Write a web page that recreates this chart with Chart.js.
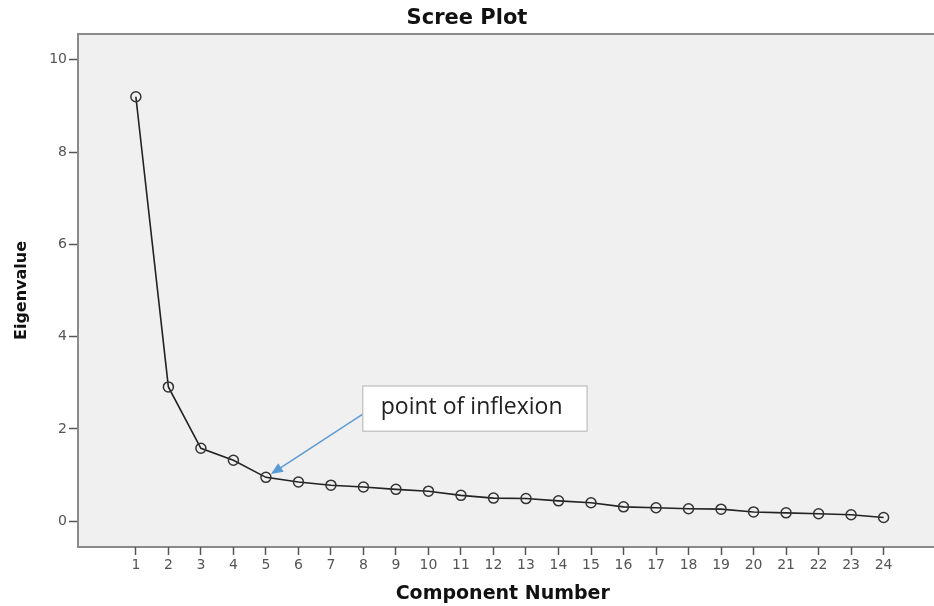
<!DOCTYPE html>
<html>
<head>
<meta charset="utf-8">
<script src="https://cdn.jsdelivr.net/npm/chart.js@4/dist/chart.umd.min.js"></script>
<style>
  html, body { margin: 0; padding: 0; background: #fff; }
  #wrap { width: 934px; height: 606px; }
</style>
</head>
<body>
<div id="wrap"><canvas id="scree"></canvas></div>
<script>
  const components = [1, 2, 3, 4, 5, 6, 7, 8, 9, 10, 11, 12, 13, 14, 15, 16, 17, 18, 19, 20, 21, 22, 23, 24];
  const eigenvalues = [9.2, 2.91, 1.58, 1.32, 0.95, 0.85, 0.78, 0.74, 0.69, 0.65, 0.56, 0.5, 0.49, 0.44, 0.4, 0.31, 0.29, 0.27, 0.26, 0.2, 0.18, 0.16, 0.14, 0.08];
  const yTicks = [0, 2, 4, 6, 8, 10];

  // note box + arrow, in data units
  const note = { text: "point of inflexion", x0: 7.98, x1: 14.88, y0: 2.93, y1: 1.95, arrowFromY: 2.32, target: 5 };

  const tickFont = { family: "'DejaVu Sans', sans-serif", size: 14 };

  // plot frame runs off the right edge of the picture
  const plotBg = {
    id: "plotBg",
    beforeDraw(chart) {
      const { ctx, chartArea: a } = chart;
      const right = chart.width;
      ctx.save();
      ctx.fillStyle = "#f0f0f0";
      ctx.fillRect(a.left, a.top, right - a.left, a.bottom - a.top);
      ctx.strokeStyle = "#8a8a8a";
      ctx.lineWidth = 2;
      ctx.beginPath();
      ctx.moveTo(a.left, a.top);
      ctx.lineTo(right, a.top);
      ctx.moveTo(a.left, a.bottom);
      ctx.lineTo(right, a.bottom);
      ctx.stroke();
      ctx.restore();
    },
  };

  const noteBox = {
    id: "noteBox",
    afterDatasetsDraw(chart) {
      const { ctx } = chart;
      const xs = chart.scales.x;
      const ys = chart.scales.y;
      const l = xs.getPixelForValue(note.x0);
      const r = xs.getPixelForValue(note.x1);
      const t = ys.getPixelForValue(note.y0);
      const b = ys.getPixelForValue(note.y1);
      ctx.save();
      // arrow
      const sx = l;
      const sy = ys.getPixelForValue(note.arrowFromY);
      const px = xs.getPixelForValue(note.target);
      const py = ys.getPixelForValue(eigenvalues[note.target - 1]);
      const ang = Math.atan2(py - sy, px - sx);
      const ex = px - Math.cos(ang) * 6;
      const ey = py - Math.sin(ang) * 6;
      ctx.strokeStyle = "#5b9bd5";
      ctx.fillStyle = "#5b9bd5";
      ctx.lineWidth = 1.5;
      ctx.beginPath();
      ctx.moveTo(sx, sy);
      ctx.lineTo(ex - Math.cos(ang) * 10, ey - Math.sin(ang) * 10);
      ctx.stroke();
      ctx.beginPath();
      ctx.moveTo(ex, ey);
      ctx.lineTo(ex - Math.cos(ang - 0.4) * 13, ey - Math.sin(ang - 0.4) * 13);
      ctx.lineTo(ex - Math.cos(ang + 0.4) * 13, ey - Math.sin(ang + 0.4) * 13);
      ctx.closePath();
      ctx.fill();
      // box
      ctx.fillStyle = "#ffffff";
      ctx.fillRect(l, t, r - l, b - t);
      ctx.strokeStyle = "#bdbdbd";
      ctx.lineWidth = 1.2;
      ctx.strokeRect(l, t, r - l, b - t);
      ctx.fillStyle = "#222";
      ctx.font = "23px 'Open Sans', sans-serif";
      ctx.textBaseline = "middle";
      ctx.fillText(note.text, l + 18, (t + b) / 2 - 1);
      ctx.restore();
    },
  };

  new Chart(document.getElementById("scree"), {
    type: "line",
    data: {
      datasets: [
        {
          data: components.map((c, i) => ({ x: c, y: eigenvalues[i] })),
          borderColor: "#222",
          borderWidth: 1.6,
          pointStyle: "circle",
          pointRadius: 5,
          pointBorderColor: "#333",
          pointBorderWidth: 1.5,
          pointBackgroundColor: "rgba(0,0,0,0)",
          tension: 0,
        },
      ],
    },
    options: {
      responsive: true,
      maintainAspectRatio: false,
      animation: false,
      layout: { padding: 0 },
      plugins: {
        legend: { display: false },
        tooltip: { enabled: false },
        title: {
          display: true,
          text: "Scree Plot",
          color: "#111",
          font: { family: "'DejaVu Sans', sans-serif", size: 21, weight: "bold", lineHeight: 1.2 },
          padding: { top: 6, bottom: 2.8 },
        },
      },
      scales: {
        x: {
          type: "linear",
          min: -0.78,
          max: 25.35,
          afterBuildTicks: (s) => { s.ticks = components.map((v) => ({ value: v })); },
          afterFit: (s) => { s.height = 59; },
          grid: { drawOnChartArea: false, drawTicks: true, tickLength: 8, tickWidth: 1.5, tickColor: "#555" },
          border: { display: false },
          ticks: {
            color: "#555",
            padding: 2,
            maxRotation: 0,
            autoSkip: false,
            font: tickFont,
          },
          title: {
            display: true,
            text: "Component Number",
            color: "#111",
            font: { family: "'DejaVu Sans', sans-serif", size: 19, weight: "bold", lineHeight: 1.2 },
            padding: { top: 1, bottom: 1 },
          },
        },
        y: {
          min: -0.56,
          max: 10.56,
          afterBuildTicks: (s) => { s.ticks = yTicks.map((v) => ({ value: v })); },
          afterFit: (s) => { s.width = 78; },
          grid: { drawOnChartArea: false, drawTicks: true, tickLength: 9, tickWidth: 1.5, tickColor: "#555" },
          border: { display: true, color: "#8a8a8a", width: 2 },
          ticks: {
            color: "#555",
            padding: 2,
            font: tickFont,
          },
          title: {
            display: true,
            text: "Eigenvalue",
            color: "#111",
            font: { family: "'DejaVu Sans', sans-serif", size: 16, weight: "bold", lineHeight: 1.2 },
            padding: { top: 12, bottom: 0 },
          },
        },
      },
    },
    plugins: [plotBg, noteBox],
  });
</script>
</body>
</html>
